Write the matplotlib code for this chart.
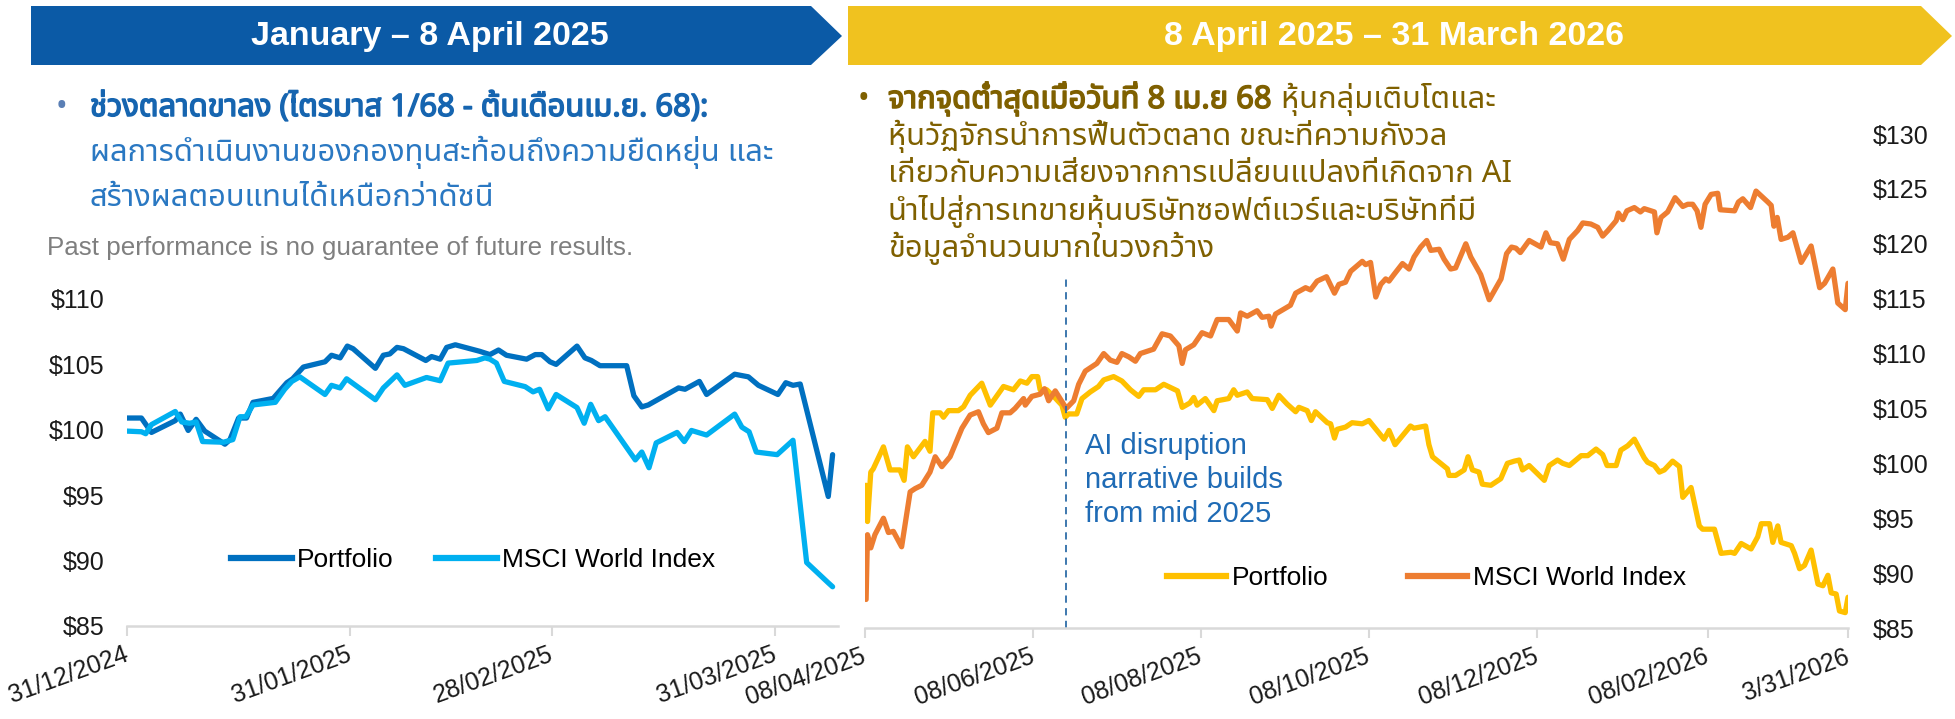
import matplotlib
matplotlib.use('Agg')
import matplotlib.pyplot as plt
from matplotlib import font_manager
from matplotlib import patheffects
from matplotlib.ft2font import FT2Font
from matplotlib.patches import Polygon
from matplotlib.lines import Line2D
from matplotlib.transforms import ScaledTranslation
import pandas as pd

# ---------------- data: Jan - 8 Apr 2025 (days after 31/12/2024) ----------------
left_start = '2024-12-31'
left_end = '2025-04-08'
left_port_days = [0, 2.0, 3.4, 6.7, 7.4, 8.5, 9.6, 10.8, 13.6, 14.3, 15.5, 16.6, 17.5, 20.3, 22.2, 23.0,
                  24.5, 27.5, 28.4, 29.6, 30.6, 31.4, 34.5, 35.6, 36.5, 37.5, 38.4, 41.5, 42.3, 43.5, 44.4,
                  45.6, 49.0, 50.4, 51.6, 52.7, 55.5, 56.7, 57.6, 58.75, 59.6, 62.5, 63.6, 64.5, 65.7, 69.4,
                  70.4, 71.5, 72.4, 76.6, 77.5, 79.5, 80.5, 84.4, 86.3, 87.7, 90.4, 91.5, 92.5, 93.5, 97.4, 98.0]
left_port_vals = [100.9, 100.9, 99.8, 100.7, 101.2, 99.95, 100.8, 99.9, 98.9, 99.25, 100.9, 100.9, 102.1, 102.4,
                  103.6, 103.9, 104.8, 105.2, 105.7, 105.5, 106.4, 106.2, 104.7, 105.7, 105.8, 106.3, 106.2,
                  105.3, 105.6, 105.4, 106.3, 106.5, 106.0, 105.75, 106.1, 105.7, 105.4, 105.75, 105.75, 105.2,
                  105.0, 106.4, 105.5, 105.3, 104.9, 104.9, 102.6, 101.75, 101.9, 103.2, 103.1, 103.7, 102.7,
                  104.25, 104.05, 103.4, 102.7, 103.6, 103.4, 103.5, 94.9, 98.1]
left_msci_days = [0, 2.0, 2.6, 3.4, 6.7, 7.6, 8.7, 9.6, 10.5, 13.4, 14.7, 15.7, 16.5, 17.5, 20.6, 21.9, 22.9,
                  24.0, 27.5, 28.4, 29.6, 30.5, 34.5, 35.6, 37.5, 38.6, 41.6, 43.5, 44.6, 48.6, 49.7, 50.4,
                  51.3, 52.4, 55.3, 56.4, 57.3, 58.5, 59.6, 62.5, 63.5, 64.4, 65.5, 66.4, 70.6, 71.5, 72.5,
                  73.5, 76.4, 77.4, 78.4, 80.5, 84.4, 85.4, 86.4, 87.4, 90.3, 92.5, 94.4, 97.4, 98.0]
left_msci_vals = [99.9, 99.85, 99.7, 100.4, 101.4, 100.6, 100.5, 100.6, 99.1, 99.05, 99.25, 101.0, 101.0, 101.9,
                  102.1, 103.1, 103.7, 104.05, 102.7, 103.4, 103.2, 103.9, 102.3, 103.2, 104.2, 103.4, 104.0,
                  103.75, 105.1, 105.3, 105.5, 105.4, 105.1, 103.7, 103.3, 102.9, 103.1, 101.6, 102.7, 101.7,
                  100.5, 101.95, 100.7, 101.0, 97.7, 98.3, 97.1, 99.0, 99.8, 99.1, 99.95, 99.6, 101.2, 100.2,
                  99.85, 98.3, 98.1, 99.2, 89.85, 88.3, 88.0]
left_tick_dates = ['2024-12-31', '2025-01-31', '2025-02-28', '2025-03-31']
left_tick_labels = ['31/12/2024', '31/01/2025', '28/02/2025', '31/03/2025']
left_yticks = [85, 90, 95, 100, 105, 110]

# ---------------- data: 8 Apr 2025 - 31 Mar 2026 (days after 08/04/2025) ----------------
right_start = '2025-04-08'
right_end = '2026-03-31'
right_port_days = [0.4, 0.9, 2.1, 3.0, 6.7, 9.1, 12.7, 14.2, 15.4, 17.6, 21.8, 23.6, 24.6, 27.3, 28.5, 30.3,
                   33.9, 35.8, 38.2, 42.4, 45.5, 50.3, 53.9, 56.4, 58.8, 60.6, 62.7, 63.6, 66.0, 68.5, 71.5,
                   72.7, 73.9, 76.9, 78.8, 81.8, 84.8, 86.7, 90.3, 93.3, 96.4, 99.4, 101.2, 105.5, 108.5,
                   113.5, 115.2, 118.0, 119.4, 120.6, 123.6, 126.7, 127.9, 132.1, 133.9, 135.2, 138.8, 140.6,
                   146.1, 147.9, 150.3, 153.3, 156.4, 157.6, 160.6, 162.1, 163.6, 167.9, 169.1, 170.5, 171.5,
                   174.5, 176.9, 180.6, 183.0, 188.5, 190.3, 192.5, 198.1, 199.4, 203.6, 204.8, 206.1, 211.5,
                   212.1, 214.5, 217.6, 219.0, 220.6, 223.0, 224.2, 227.3, 230.9, 233.3, 235.8, 237.6, 238.8,
                   241.2, 246.7, 248.5, 251.5, 253.4, 255.8, 260.1, 262.5, 265.5, 267.9, 269.5, 272.8, 274.5,
                   277.0, 279.4, 283.0, 284.2, 286.7, 288.5, 290.3, 293.3, 295.8, 297.0, 300.0, 303.0, 304.2,
                   308.5, 310.9, 314.5, 315.8, 318.2, 321.8, 324.2, 325.5, 328.5, 329.7, 331.5, 332.7, 336.4,
                   337.6, 339.4, 341.2, 343.6, 346.1, 347.9, 349.7, 350.9, 352.7, 353.9, 356.0, 357.0]
right_port_vals = [98.0, 94.7, 99.2, 99.5, 101.5, 99.4, 99.4, 98.45, 101.5, 100.6, 102.0, 101.1, 104.6, 104.6,
                   104.2, 104.8, 104.8, 105.15, 106.2, 107.3, 105.3, 107.0, 106.7, 107.5, 107.3, 107.9, 107.9,
                   106.7, 106.7, 106.1, 105.3, 104.2, 104.5, 104.5, 105.9, 106.5, 107.0, 107.6, 107.9, 107.5,
                   106.7, 106.1, 106.7, 106.7, 107.2, 106.6, 105.1, 105.5, 106.0, 105.3, 105.9, 104.8, 105.7,
                   105.9, 106.7, 106.2, 106.5, 105.9, 105.8, 105.0, 106.2, 105.4, 104.7, 105.1, 104.8, 103.9,
                   104.7, 103.7, 103.6, 102.3, 103.1, 103.3, 103.7, 103.6, 103.9, 102.2, 103.0, 101.7, 103.4,
                   103.2, 103.4, 101.7, 100.6, 99.5, 98.9, 98.9, 99.4, 100.6, 99.4, 99.2, 98.1, 98.0, 98.6,
                   100.0, 100.2, 100.3, 99.4, 99.8, 98.45, 99.8, 100.3, 100.0, 99.8, 100.7, 100.7, 101.3, 100.8,
                   99.8, 99.8, 101.2, 101.6, 102.2, 100.5, 100.1, 99.8, 99.2, 99.4, 100.2, 99.7, 96.9, 97.8,
                   94.3, 94.0, 94.0, 91.8, 91.9, 91.8, 92.7, 92.2, 93.3, 94.5, 94.5, 92.8, 94.3, 92.8, 92.5,
                   91.8, 90.4, 90.7, 92.1, 89.0, 88.85, 89.8, 88.2, 88.1, 86.55, 86.4, 87.8]
right_msci_days = [0.4, 0.9, 2.1, 3.6, 6.7, 8.5, 10.3, 13.3, 16.4, 18.2, 20.6, 23.6, 25.5, 27.9, 30.9, 35.2,
                   38.2, 41.2, 43.0, 44.8, 47.9, 49.7, 52.7, 54.5, 57.6, 58.2, 60.6, 63.6, 65.2, 66.7, 69.1,
                   73.1, 75.8, 77.6, 80.0, 84.2, 86.7, 89.1, 91.5, 93.3, 95.8, 98.2, 100.0, 104.8, 107.9,
                   110.9, 114.0, 115.2, 116.4, 119.4, 122.4, 125.5, 127.9, 132.1, 135.2, 136.4, 138.8, 142.4,
                   144.2, 146.7, 147.5, 149.1, 154.5, 156.4, 160.0, 161.8, 164.2, 167.6, 170.5, 172.1, 174.5,
                   176.4, 180.6, 181.8, 183.6, 185.5, 187.3, 189.1, 190.3, 192.1, 195.2, 197.6, 199.4, 201.8,
                   204.0, 205.5, 208.5, 210.3, 212.7, 214.5, 218.2, 220.0, 223.6, 226.7, 231.0, 233.0, 234.8,
                   236.4, 238.0, 241.2, 245.5, 247.3, 248.9, 251.5, 253.6, 255.8, 258.8, 260.7, 263.6, 266.1,
                   267.9, 269.8, 272.8, 273.6, 275.2, 276.7, 279.4, 281.6, 283.0, 286.7, 287.6, 289.1, 291.5,
                   294.2, 297.0, 298.8, 300.6, 302.2, 303.6, 305.1, 307.3, 309.7, 310.6, 315.8, 317.2, 318.8,
                   321.6, 323.6, 327.9, 329.1, 330.1, 331.3, 332.7, 335.2, 337.0, 340.0, 343.6, 346.7, 348.5,
                   351.5, 353.3, 356.0, 357.0]
right_msci_vals = [87.6, 93.5, 92.3, 93.5, 95.0, 93.7, 93.8, 92.4, 97.4, 97.7, 98.0, 99.2, 100.6, 99.7, 100.6,
                   103.2, 104.4, 104.7, 103.6, 102.8, 103.2, 104.6, 104.6, 105.0, 105.9, 105.3, 106.1, 106.3,
                   106.8, 105.7, 106.6, 105.0, 105.7, 107.2, 108.4, 109.1, 110.0, 109.4, 109.2, 110.0, 109.7,
                   109.3, 110.0, 110.4, 111.8, 111.6, 110.7, 109.1, 110.35, 110.8, 111.9, 111.6, 113.1, 113.1,
                   112.05, 113.7, 113.4, 113.9, 113.3, 113.4, 112.5, 113.6, 114.4, 115.5, 116.0, 115.8, 116.6,
                   117.0, 115.5, 116.3, 116.5, 117.5, 118.4, 118.1, 118.3, 115.15, 116.3, 116.8, 116.6, 117.2,
                   118.2, 117.7, 118.8, 119.7, 120.3, 119.4, 119.5, 118.6, 117.7, 117.8, 120.0, 118.8, 117.2,
                   114.9, 116.8, 119.1, 119.7, 119.6, 119.2, 120.3, 119.7, 121.0, 120.1, 120.0, 118.6, 120.4,
                   121.2, 121.9, 121.8, 121.5, 120.7, 121.2, 122.1, 122.8, 122.2, 123.0, 123.3, 122.9, 123.2,
                   122.9, 121.0, 122.4, 122.9, 124.2, 123.4, 123.6, 123.6, 123.0, 121.5, 123.6, 124.5, 124.6,
                   123.1, 123.0, 123.8, 124.1, 123.3, 124.8, 123.8, 123.5, 121.6, 122.4, 120.4, 120.6, 121.0,
                   118.3, 119.8, 116.0, 116.4, 117.7, 114.6, 114.0, 116.4]
right_tick_dates = ['2025-04-08', '2025-06-08', '2025-08-08', '2025-10-08', '2025-12-08', '2026-02-08',
                    '2026-03-31']
right_tick_labels = ['08/04/2025', '08/06/2025', '08/08/2025', '08/10/2025', '08/12/2025', '08/02/2026',
                     '3/31/2026']
right_yticks = [85, 90, 95, 100, 105, 110, 115, 120, 125, 130]
ai_date = '2025-06-20'
ai_line_top = 117.0

# ---------------- texts ----------------
left_title = 'January – 8 April 2025'
right_title = '8 April 2025 – 31 March 2026'
left_bold = 'ช่วงตลาดขาลง (ไตรมาส 1/68 - ต้นเดือนเม.ย. 68):'
left_lines = ['ผลการดำเนินงานของกองทุนสะท้อนถึงความยืดหยุ่น และ',
              'สร้างผลตอบแทนได้เหนือกว่าดัชนี']
right_bold = 'จากจุดต่ำสุดเมื่อวันที่ 8 เม.ย 68'
right_first_rest = ' หุ้นกลุ่มเติบโตและ'
right_lines = ['หุ้นวัฏจักรนำการฟื้นตัวตลาด ขณะที่ความกังวล',
               'เกี่ยวกับความเสี่ยงจากการเปลี่ยนแปลงที่เกิดจาก AI',
               'นำไปสู่การเทขายหุ้นบริษัทซอฟต์แวร์และบริษัทที่มี',
               'ข้อมูลจำนวนมากในวงกว้าง']
disclaimer = 'Past performance is no guarantee of future results.'
ai_note = 'AI disruption\nnarrative builds\nfrom mid 2025'


def thai_family():
    preferred = ['Noto Sans Thai', 'Noto Sans Thai UI', 'Noto Sans Thai Looped', 'Sarabun', 'Prompt',
                 'Kanit', 'Loma', 'Garuda', 'Waree', 'Umpush', 'Norasi', 'FreeSans', 'Tahoma']
    found = {}
    for f in font_manager.fontManager.ttflist:
        try:
            if 0x0E01 in FT2Font(f.fname).get_charmap():
                found.setdefault(f.name, f)
        except Exception:
            continue
    for p in preferred:
        if p in found:
            return p
    return next(iter(found), 'DejaVu Sans')


W, H = 1956, 719
plt.rcParams['font.family'] = ['Liberation Sans', 'DejaVu Sans']
THAI = [thai_family(), 'Liberation Sans', 'DejaVu Sans']

fig = plt.figure(figsize=(W / 100, H / 100), dpi=100)
renderer = fig.canvas.get_renderer()


def fx(px):
    return px / W


def fy(py):
    return 1 - py / H


# ---------------- header banners ----------------
blue = '#0B5AA6'
gold = '#F0C21F'
fig.patches.append(Polygon([(fx(31), fy(6)), (fx(811), fy(6)), (fx(842), fy(36)), (fx(811), fy(65)),
                            (fx(31), fy(65))], closed=True, transform=fig.transFigure, facecolor=blue,
                           edgecolor='none'))
fig.patches.append(Polygon([(fx(848), fy(6)), (fx(1921), fy(6)), (fx(1952), fy(36)), (fx(1921), fy(65)),
                            (fx(848), fy(65))], closed=True, transform=fig.transFigure, facecolor=gold,
                           edgecolor='none'))
fig.text(fx(430), fy(37), left_title, color='white', fontsize=24.5, weight='bold', ha='center', va='center')
fig.text(fx(1394), fy(37), right_title, color='white', fontsize=24.5, weight='bold', ha='center', va='center')


# ---------------- Thai commentary ----------------
def fit_size(s, target_px, base=16.0):
    t = fig.text(0, 0, s, fontsize=base, family=THAI)
    w = t.get_window_extent(renderer).width
    t.remove()
    return base * target_px / w


def bold_fx(color):
    return [patheffects.withStroke(linewidth=1.1, foreground=color)]


left_size = fit_size(left_lines[0], 683)
left_blue_bold = '#1665B0'
left_blue = '#2A78C2'
fig.text(fx(56), fy(116), '•', color='#5A7FB5', fontsize=left_size, family=THAI, va='baseline')
fig.text(fx(90), fy(116), left_bold, color=left_blue_bold, fontsize=left_size, family=THAI, weight='bold',
         va='baseline', path_effects=bold_fx(left_blue_bold))
for i, s in enumerate(left_lines):
    fig.text(fx(90), fy(161 + 45 * i), s, color=left_blue, fontsize=left_size, family=THAI, va='baseline')

right_size = fit_size(right_lines[1], 625)
olive = '#7F6000'
fig.text(fx(858), fy(108), '•', color=olive, fontsize=right_size, family=THAI, va='baseline')
tb = fig.text(fx(888), fy(108), right_bold, color=olive, fontsize=right_size, family=THAI, weight='bold',
              va='baseline', path_effects=bold_fx(olive))
wb = tb.get_window_extent(renderer).width
fig.text(fx(890 + wb), fy(108), right_first_rest, color=olive, fontsize=right_size, family=THAI,
         va='baseline')
for i, s in enumerate(right_lines):
    fig.text(fx(888), fy(145 + 37.3 * i), s, color=olive, fontsize=right_size, family=THAI, va='baseline')

fig.text(fx(47), fy(248), disclaimer, color='#7F7F7F', fontsize=18.7, va='center')

# ---------------- axes ----------------
axis_grey = '#D9D9D9'
label_col = '#1A1A1A'


def style_axis(ax):
    for side in ['top', 'left', 'right']:
        ax.spines[side].set_visible(False)
    ax.spines['bottom'].set_color(axis_grey)
    ax.spines['bottom'].set_linewidth(1.8)
    ax.tick_params(axis='x', length=7, width=1.5, color=axis_grey, labelsize=18, labelcolor=label_col, pad=5)
    ax.set_facecolor('none')


def rotate_labels(ax):
    for lab in ax.get_xticklabels():
        lab.set_rotation(20)
        lab.set_ha('right')
        lab.set_va('top')
        lab.set_rotation_mode('anchor')
        lab.set_transform(lab.get_transform() + ScaledTranslation(-0.04, 0, fig.dpi_scale_trans))


def to_dates(start, days):
    return pd.Timestamp(start) + pd.to_timedelta(days, unit='D')


line_kw = dict(lw=3.8, solid_joinstyle='round', solid_capstyle='round')

# left chart
axL = fig.add_axes([fx(127), fy(626), fx(838) - fx(127), fy(299) - fy(626)])
axL.plot(to_dates(left_start, left_port_days), left_port_vals, color='#0070C0', **line_kw)
axL.plot(to_dates(left_start, left_msci_days), left_msci_vals, color='#00B0F0', **line_kw)
axL.set_xlim(pd.Timestamp(left_start), pd.Timestamp(left_end) + pd.Timedelta(hours=18))
axL.set_ylim(left_yticks[0], left_yticks[-1])
axL.set_yticks(left_yticks, [f'${v}' for v in left_yticks])
axL.tick_params(axis='y', length=0, labelsize=18, labelcolor=label_col, pad=16)
axL.set_xticks(pd.to_datetime(left_tick_dates), left_tick_labels)
style_axis(axL)
rotate_labels(axL)
axL.legend(handles=[Line2D([], [], color='#0070C0', lw=4.5), Line2D([], [], color='#00B0F0', lw=4.5)],
           labels=['Portfolio', 'MSCI World Index'], loc='center left', ncol=2, frameon=False, fontsize=19,
           bbox_to_anchor=(fx(231), fy(560)), bbox_transform=fig.transFigure, borderpad=0, borderaxespad=0,
           handlelength=2.3, handletextpad=0.2, columnspacing=1.6)

# right chart
axR = fig.add_axes([fx(865), fy(628), fx(1848) - fx(865), fy(134) - fy(628)])
axR.plot(to_dates(right_start, right_port_days), right_port_vals, color='#FFC000', **line_kw)
axR.plot(to_dates(right_start, right_msci_days), right_msci_vals, color='#ED7D31', **line_kw)
axR.vlines(pd.Timestamp(ai_date), right_yticks[0], ai_line_top, colors='#2E6DA8', lw=1.3,
           linestyles=(0, (4, 3)))
axR.set_xlim(pd.Timestamp(right_start), pd.Timestamp(right_end))
axR.set_ylim(right_yticks[0], right_yticks[-1])
axR.yaxis.tick_right()
axR.set_yticks(right_yticks, [f'${v}' for v in right_yticks])
axR.tick_params(axis='y', length=0, labelsize=18, labelcolor=label_col, pad=18)
axR.set_xticks(pd.to_datetime(right_tick_dates), right_tick_labels)
style_axis(axR)
rotate_labels(axR)
axR.legend(handles=[Line2D([], [], color='#FFC000', lw=4.5), Line2D([], [], color='#ED7D31', lw=4.5)],
           labels=['Portfolio', 'MSCI World Index'], loc='center left', ncol=2, frameon=False, fontsize=19,
           bbox_to_anchor=(fx(1167), fy(578)), bbox_transform=fig.transFigure, borderpad=0, borderaxespad=0,
           handlelength=2.25, handletextpad=0.22, columnspacing=3.0)

fig.text(fx(1085), fy(480), ai_note, color='#1F6BB5', fontsize=21, va='center', ha='left', linespacing=1.27)

fig.savefig('out.png', dpi=100)
